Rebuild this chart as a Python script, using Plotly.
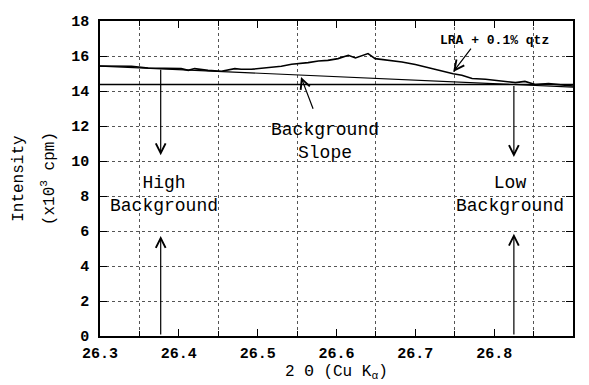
import plotly.graph_objects as go

# Diffraction scan: LRA + 0.1% quartz
two_theta = [26.300, 26.340, 26.361, 26.382, 26.403, 26.412, 26.420, 26.437, 26.454, 26.471,
             26.479, 26.492, 26.509, 26.530, 26.543, 26.551, 26.564, 26.577, 26.589, 26.602,
             26.615, 26.624, 26.640, 26.649, 26.666, 26.683, 26.700, 26.717, 26.734, 26.748,
             26.759, 26.772, 26.789, 26.810, 26.827, 26.839, 26.852, 26.869, 26.886, 26.900]
intensity = [15.43, 15.41, 15.31, 15.31, 15.28, 15.18, 15.28, 15.18, 15.13, 15.28,
             15.24, 15.24, 15.31, 15.41, 15.53, 15.56, 15.62, 15.71, 15.75, 15.85,
             16.04, 15.89, 16.14, 15.85, 15.75, 15.66, 15.51, 15.31, 15.13, 14.99,
             14.90, 14.71, 14.67, 14.57, 14.48, 14.55, 14.37, 14.42, 14.37, 14.29]

# Background references
slope_x = [26.3, 26.9]
slope_y = [15.42, 14.22]
low_bg_level = 14.37
high_bg_pos = 26.377
low_bg_pos = 26.825

x_ticks = [26.3, 26.4, 26.5, 26.6, 26.7, 26.8, 26.9]
x_grid = [26.35, 26.45, 26.55, 26.65, 26.75, 26.85]
y_ticks = [0, 2, 4, 6, 8, 10, 12, 14, 16, 18]

FONT = "Liberation Mono"

fig = go.Figure()
fig.add_trace(go.Scatter(x=two_theta, y=intensity, mode="lines",
                         line=dict(color="black", width=1.6), showlegend=False))
fig.add_trace(go.Scatter(x=slope_x, y=slope_y, mode="lines",
                         line=dict(color="black", width=1.2), showlegend=False))
fig.add_trace(go.Scatter(x=[x_ticks[0], x_ticks[-1]], y=[low_bg_level, low_bg_level], mode="lines",
                         line=dict(color="black", width=1.5), showlegend=False))

def arrow(x0, y0, x1, y1):
    fig.add_annotation(x=x1, y=y1, ax=x0, ay=y0, xref="x", yref="y", axref="x", ayref="y",
                       text="", showarrow=True, arrowhead=5, arrowsize=1.6,
                       arrowwidth=1.2, arrowcolor="black")

arrow(high_bg_pos, 15.3, high_bg_pos, 10.33)
arrow(high_bg_pos, 0, high_bg_pos, 5.71)
arrow(low_bg_pos, low_bg_level, low_bg_pos, 10.23)
arrow(low_bg_pos, 0, low_bg_pos, 5.85)
arrow(26.571, 12.9, 26.555, 14.8)
arrow(26.772, 16.51, 26.748, 15.09)

def label(x, y, text, size=18, weight="normal"):
    fig.add_annotation(x=x, y=y, xref="x", yref="y", text=text, showarrow=False,
                       align="center", font=dict(family=FONT, size=size, color="black",
                                                 weight=weight))

label(26.381, 8.07, "High<br>Background")
label(26.82, 8.07, "Low<br>Background")
label(26.585, 11.13, "Background<br>Slope")
label(26.801, 16.9, "LRA + 0.1% qtz", size=13, weight="bold")

# Axis titles
fig.add_annotation(x=-0.196, y=0.5, xref="paper", yref="paper", text="Intensity",
                   textangle=-90, showarrow=False, font=dict(family=FONT, size=16, color="black"))
fig.add_annotation(x=-0.135, y=0.5, xref="paper", yref="paper", text="(x10<sup>3</sup> cpm)",
                   textangle=-90, showarrow=False, font=dict(family=FONT, size=16, color="black"))
fig.add_annotation(x=0.5, y=-0.117, xref="paper", yref="paper", yanchor="middle",
                   text="2 \u0398 (Cu K<sub>\u03b1</sub>)",
                   showarrow=False, font=dict(family=FONT, size=16, color="black"))

fig.update_xaxes(range=[26.3, 26.9], tickvals=x_ticks, ticktext=[f"{v:.1f}" for v in x_ticks],
                 ticks="inside", ticklen=7, tickwidth=1.2, tickcolor="black",
                 showline=True, linewidth=1.5, linecolor="black", mirror="ticks",
                 showgrid=False, zeroline=False, ticklabelstandoff=2,
                 tickfont=dict(family=FONT, size=15, color="black", weight="bold"),
                 minor=dict(tickvals=x_grid, ticks="inside", ticklen=5, tickcolor="black",
                            showgrid=True, gridcolor="#555555", griddash="dot", gridwidth=1))
fig.update_yaxes(range=[0, 18], tickvals=y_ticks,
                 ticks="inside", ticklen=7, tickwidth=1.2, tickcolor="black",
                 showline=True, linewidth=1.5, linecolor="black", mirror="ticks",
                 showgrid=True, gridcolor="#555555", griddash="dot", gridwidth=1,
                 zeroline=False, ticklabelstandoff=6,
                 tickfont=dict(family=FONT, size=15, color="black", weight="bold"))

fig.update_layout(width=589, height=385, margin=dict(l=100, r=16, t=21, b=49),
                  plot_bgcolor="white", paper_bgcolor="white")

fig.write_html("out.html")
